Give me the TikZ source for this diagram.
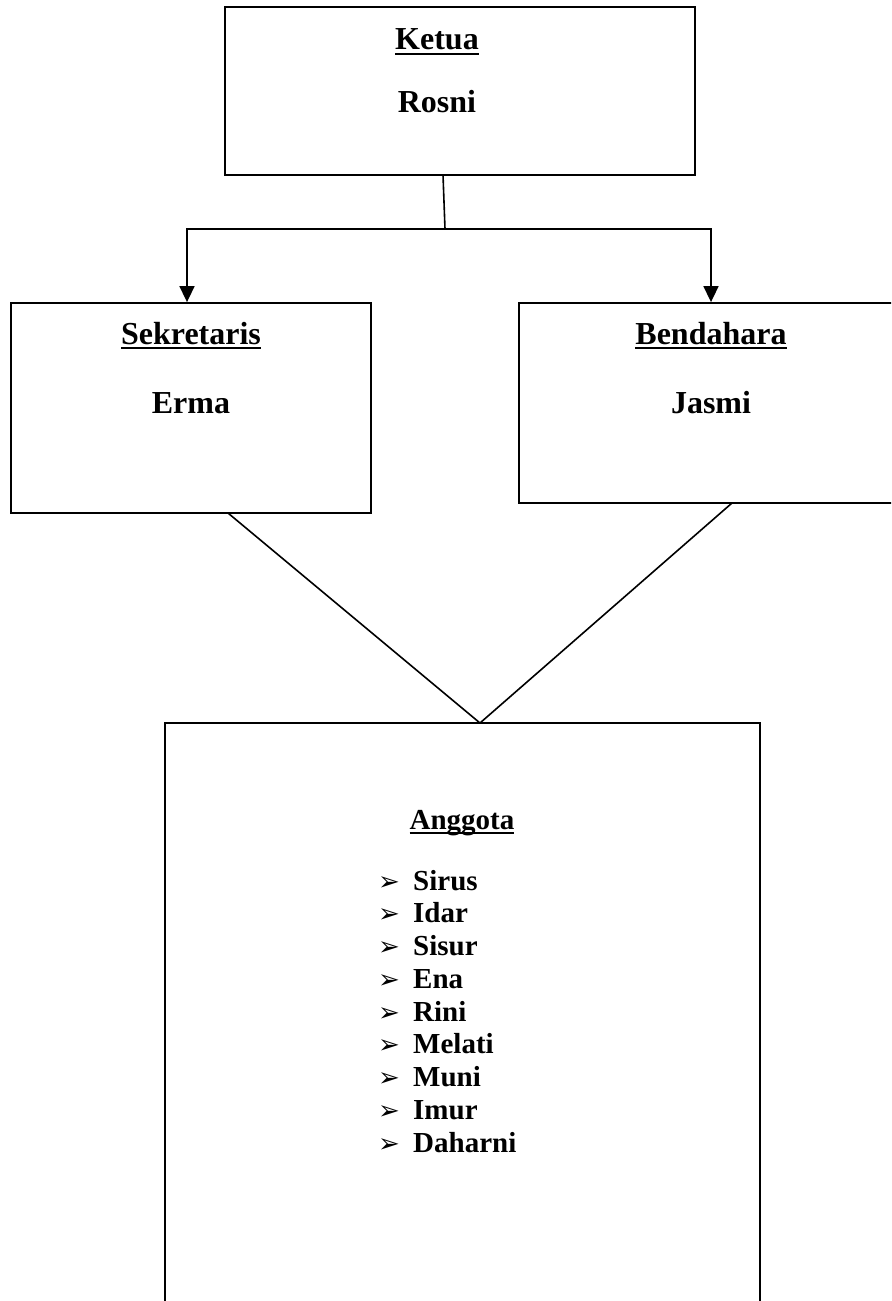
\documentclass[tikz,border=0pt]{standalone}
\usepackage{fontspec}
\setmainfont{Liberation Serif}
\newfontfamily\symfont{DejaVu Sans}
\usetikzlibrary{arrows.meta}
\newcommand\myul[1]{\setbox0\hbox{#1}\rlap{\rule[-5bp]{\wd0}{2.2bp}}\box0}
\begin{document}
\begin{tikzpicture}[x=1bp,y=-1bp,
  box/.style={draw,line width=1.8bp,rectangle,inner sep=0pt},
  txt/.style={anchor=base,inner sep=0pt,font=\fontsize{32bp}{35bp}\selectfont\bfseries},
  item/.style={anchor=base west,inner sep=0pt,font=\fontsize{29bp}{32bp}\selectfont\bfseries},
  bul/.style={anchor=base west,inner sep=0pt,font=\fontsize{26bp}{28bp}\selectfont\symfont},
  conn/.style={line width=1.6bp},
  arr/.style={conn,-{Triangle[width=15bp,length=16bp]}}
]
\clip (0,0) rectangle (891,1301);
\fill[white] (0,0) rectangle (891,1301);
% boxes
\node[box,minimum width=470bp,minimum height=168bp] (ketua) at (460,91) {};
\node[box,minimum width=360bp,minimum height=210bp] (sek) at (191,408) {};
\node[box,minimum width=384bp,minimum height=200bp] (ben) at (711,403) {};
\node[box,minimum width=595bp,minimum height=640bp] (ang) at (462.5,1043) {};
% texts
\node[txt] (tketua) at (437,50) {\myul{Ketua}};
\node[txt] (nketua) at (437,113) {Rosni};
\node[txt] (tsek) at (191,344) {\myul{Sekretaris}};
\node[txt] (nsek) at (191,413) {Erma};
\node[txt] (tben) at (711,344) {\myul{Bendahara}};
\node[txt] (nben) at (711,413) {Jasmi};
\node[txt,font=\fontsize{29bp}{32bp}\selectfont\bfseries] (tang) at (462,829) {\myul{Anggota}};
\foreach \n/\t [count=\i from 0] in {i1/Sirus,i2/Idar,i3/Sisur,i4/Ena,i5/Rini,i6/Melati,i7/Muni,i8/Imur,i9/Daharni}{
  \node[bul] (b\n) at (378,{890+32.75*\i}) {➢};
  \node[item] (\n) at (413,{890+32.75*\i}) {\t};
}
% connectors
\coordinate (stemtop) at (443,175);
\coordinate (j) at (445,229);
\coordinate (apex) at (480,723);
\coordinate (sekfoot) at (228,513);
\coordinate (benfoot) at (732,503);
\draw[conn] (stemtop) -- (j);
\draw[arr] (j) -| ([xshift=-4bp]sek.north);
\draw[arr] (j) -| (ben.north);
\draw[conn] (sekfoot) -- (apex);
\draw[conn] (benfoot) -- (apex);
\end{tikzpicture}
\end{document}
